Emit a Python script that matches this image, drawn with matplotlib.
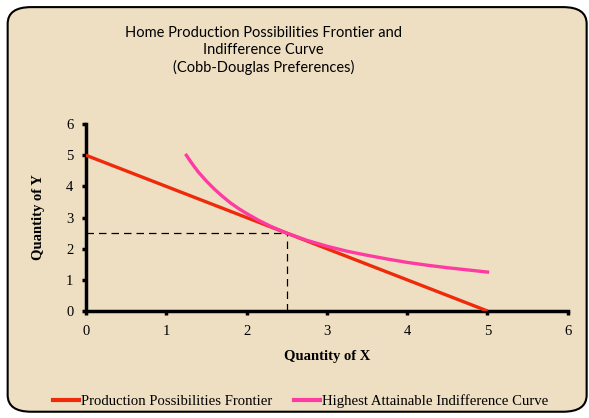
import matplotlib
matplotlib.use('Agg')
from matplotlib import pyplot as plt
from matplotlib.patches import FancyBboxPatch
from matplotlib.lines import Line2D

# data
ppf_x = [0, 5]
ppf_y = [5, 0]
ic_x = [1.25, 1.3, 1.35, 1.4, 1.5, 1.6, 1.7, 1.8, 1.9, 2.0, 2.15, 2.3, 2.5, 2.75, 3.0, 3.25,
        3.5, 3.75, 4.0, 4.25, 4.5, 4.75, 5.0]
ic_y = [5.0, 4.81, 4.63, 4.46, 4.17, 3.91, 3.68, 3.47, 3.29, 3.13, 2.91, 2.72, 2.5, 2.27,
        2.08, 1.92, 1.79, 1.67, 1.56, 1.47, 1.39, 1.32, 1.25]
opt_x = 2.5
opt_y = 2.5
ticks = [0, 1, 2, 3, 4, 5, 6]

bg = '#eedfc2'
serif = 'Liberation Serif'

fig = plt.figure(figsize=(5.89, 4.18), dpi=100)
fig.patch.set_facecolor('white')

# rounded border
box = FancyBboxPatch((0.013, 0.015), 0.983, 0.968,
                     boxstyle='round,pad=0,rounding_size=0.04',
                     transform=fig.transFigure, facecolor=bg,
                     edgecolor='black', linewidth=1.5, zorder=-10)
fig.patches.append(box)

ax = fig.add_axes([0.146, 0.256, 0.818, 0.447])
ax.set_facecolor('none')
ax.set_zorder(5)

ax.plot(ppf_x, ppf_y, color='#ee2a0a', linewidth=2.4, solid_capstyle='butt', zorder=3)
ax.plot(ic_x, ic_y, color='#ff3aa0', linewidth=2.4, zorder=3)
ax.plot([0, opt_x], [opt_y, opt_y], color='black', linestyle=(0, (6, 4)), linewidth=0.9, zorder=2)
ax.plot([opt_x, opt_x], [0, opt_y], color='black', linestyle=(0, (6, 4)), linewidth=0.9, zorder=2)

ax.set_xlim(0, 6)
ax.set_ylim(0, 6)
ax.set_xticks(ticks)
ax.set_yticks(ticks)
ax.set_xticklabels([str(t) for t in ticks], fontfamily=serif, fontsize=10.5)
ax.set_yticklabels([str(t) for t in ticks], fontfamily=serif, fontsize=10.5)
ax.tick_params(direction='out', length=3, width=2.5, pad=7)
ax.tick_params(axis='y', pad=6)

for s in ['top', 'right']:
    ax.spines[s].set_visible(False)
for s in ['left', 'bottom']:
    ax.spines[s].set_linewidth(2.5)
    ax.spines[s].set_color('black')

ax.set_xlabel('Quantity of X', fontfamily=serif, fontsize=10.5, fontweight='bold', labelpad=9)
ax.set_ylabel('Quantity of Y', fontfamily=serif, fontsize=10.5, fontweight='bold', labelpad=15)

fig.text(0.447, 0.938, 'Home Production Possibilities Frontier and\nIndifference Curve\n(Cobb-Douglas Preferences)',
         ha='center', va='top', fontfamily='Lato', fontsize=10.5, linespacing=1.25)

handles = [Line2D([], [], color='#ee2a0a', linewidth=3),
           Line2D([], [], color='#ff3aa0', linewidth=3)]
fig.legend(handles, ['Production Possibilities Frontier', 'Highest Attainable Indifference Curve'],
           loc='center', bbox_to_anchor=(0.51, 0.04), ncol=2, frameon=False,
           prop={'family': serif, 'size': 10.6}, handlelength=1.8, handletextpad=0.1,
           columnspacing=1.5)

fig.savefig('out.png', dpi=100)
